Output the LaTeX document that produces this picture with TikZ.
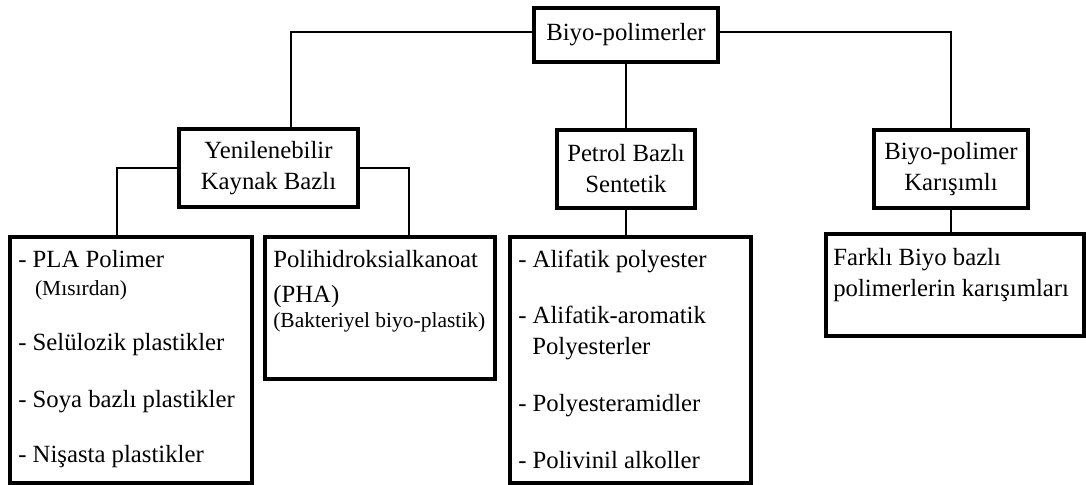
\documentclass[tikz,border=0pt]{standalone}
\usepackage{fontspec}
\setmainfont{Liberation Serif}
\newcommand{\mainsize}{\fontsize{17.6pt}{22pt}\selectfont}
\newcommand{\subsize}{\fontsize{15.3pt}{18pt}\selectfont}
\tikzset{box/.style = {draw, line width = 2.2pt, inner sep = 0, align = center, font = \mainsize}}
\tikzset{txt/.style = {anchor = north west, inner sep = 0, align = left, font = \mainsize}}
\tikzset{link/.style = {line width = 1.3pt}}

\begin{document}
\begin{tikzpicture}
      \useasboundingbox (0, 0) rectangle (27.15, -12.125);
      \node [box, minimum width = 4.6cm, minimum height = 1.35cm] (bio) at (15.65, -0.875) {Biyo-polimerler};
      \node [box, minimum width = 4.475cm, minimum height = 1.95cm] (ykb) at (6.7125, -4.2) {Yenilenebilir\\Kaynak Bazlı};
      \node [box, minimum width = 3.45cm, minimum height = 1.95cm] (pbs) at (15.65, -4.225) {Petrol Bazlı\\Sentetik};
      \node [box, minimum width = 3.85cm, minimum height = 1.95cm] (bpk) at (23.775, -4.225) {Biyo-polimer\\Karışımlı};
      \node [box, minimum width = 6.05cm, minimum height = 6.15cm] (ylist) at (3.275, -9) {};
      \node [box, minimum width = 5.75cm, minimum height = 3.55cm] (pha) at (9.5, -7.7) {};
      \node [box, minimum width = 6.025cm, minimum height = 6.15cm] (plist) at (15.7625, -9) {};
      \node [box, minimum width = 6.45cm, minimum height = 2.55cm] (mix) at (23.875, -7.125) {};
      \node [txt] (ytext) at (0.45, -6.25) {- PLA Polimer\\[-2.1pt]\hspace*{0.42cm}{\subsize (Mısırdan)}\\[17.1pt]- Selülozik plastikler\\[18.5pt]- Soya bazlı plastikler\\[17.1pt]- Nişasta plastikler};
      \node [txt] (phatext) at (6.825, -6.25) {Polihidroksialkanoat\\[2.9pt](PHA)\\[-4.2pt]{\subsize (Bakteriyel biyo-plastik)}};
      \node [txt] (ptext) at (12.95, -6.25) {- Alifatik polyester\\[17.8pt]- Alifatik-aromatik\\\hspace*{0.35cm}Polyesterler\\[18.5pt]- Polyesteramidler\\[18.5pt]- Polivinil alkoller};
      \node [txt] (mtext) at (20.825, -6.2) {Farklı Biyo bazlı\\polimerlerin karışımları};
      \draw [link] ([yshift = 0.08cm] bio.west) -| ([xshift = 0.5625cm] ykb.north);
      \draw [link] ([yshift = 0.08cm] bio.east) -| (bpk.north);
      \draw [link] (bio.south) -- (pbs.north);
      \draw [link] (pbs.south) -- (pbs.south |- plist.north);
      \draw [link] (bpk.south) -- (bpk.south |- mix.north);
      \draw [link] (ykb.west) -| ([xshift = -0.35cm] ylist.north);
      \draw [link] (ykb.east) -| ([xshift = 0.725cm] pha.north);
    \end{tikzpicture}
\end{document}
